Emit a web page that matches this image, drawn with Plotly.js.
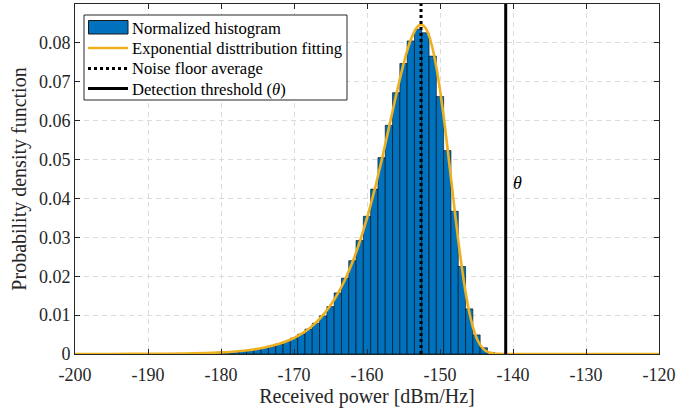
<!DOCTYPE html>
<html><head><meta charset="utf-8">
<script src="https://cdn.plot.ly/plotly-3.0.1.min.js"></script>
<style>html,body{margin:0;padding:0;background:#fff}#chart{width:699px;height:411px}</style>
</head><body><div id="chart"></div>
<script>
// Histogram bins (centres, dBm/Hz) and normalized density
const binCenters = [-190,-189,-188,-187,-186,-185,-184,-183,-182,-181,-180,-179,-178,-177,-176,-175,-174,-173,-172,-171,-170,-169,-168,-167,-166,-165,-164,-163,-162,-161,-160,-159,-158,-157,-156,-155,-154,-153,-152,-151,-150,-149,-148,-147,-146,-145,-144,-143,-142];
const binDensity = [0.00003,0.00004,0.00005,0.00006,0.00008,0.0001,0.00013,0.00017,0.00022,0.0003,0.00039,0.0005,0.00063,0.0008,0.001,0.0013,0.0016,0.0021,0.0026,0.0032,0.0041,0.0051,0.0064,0.0079,0.0098,0.0122,0.0157,0.0195,0.024,0.0292,0.0354,0.0424,0.0505,0.0588,0.0672,0.0747,0.0805,0.0835,0.0826,0.0766,0.0662,0.0523,0.0367,0.0225,0.0116,0.0049,0.0016,0.0004,0.00005];

// Fitted curve points
const fitX = [-200,-195,-190,-185,-182,-180,-178,-176,-174,-172,-170,-169,-168,-167,-166,-165,-164,-163,-162,-161,-160,-159,-158,-157,-156,-155,-154,-153,-152.5,-152,-151.5,-151,-150.5,-150,-149.5,-149,-148.5,-148,-147.5,-147,-146.5,-146,-145.5,-145,-144.5,-144,-143.5,-143,-142.5,-142,-141,-140,-135,-130,-125,-120];
const fitY = [0,0.00001,0.00004,0.00013,0.00026,0.00042,0.00066,0.00105,0.00166,0.00261,0.00412,0.00516,0.00645,0.00806,0.01006,0.01251,0.01552,0.01917,0.02357,0.02881,0.03493,0.04195,0.04977,0.05815,0.06664,0.07453,0.08085,0.08436,0.08468,0.08387,0.0818,0.07844,0.07377,0.06791,0.06102,0.05338,0.04528,0.03714,0.02929,0.02215,0.01596,0.01089,0.007,0.0042,0.00234,0.00119,0.00055,0.00023,0.00008,0.00003,0,0,0,0,0,0];

const noiseFloorAvg = -152.6;
const detectionThreshold = -141;
const seriesNames = ['Normalized histogram','Exponential disttribution fitting','Noise floor average','Detection threshold (<i>θ</i>)'];

const xTickVals = [-200,-190,-180,-170,-160,-150,-140,-130,-120];
const xTickText = ['-200','-190','-180','-170','-160','-150','-140','-130','-120'];
const yTickVals = [0,0.01,0.02,0.03,0.04,0.05,0.06,0.07,0.08];
const yTickText = ['0','0.01','0.02','0.03','0.04','0.05','0.06','0.07','0.08'];
const xRange = [-200,-120];
const yRange = [0,0.09];

const BLUE = '#0072BD', ORANGE = '#EDB120';

const traces = [
  {type:'bar', x:binCenters, y:binDensity, width:1, name:seriesNames[0], showlegend:false,
   marker:{color:BLUE, line:{color:'#000000', width:0.6}}},
  {type:'scatter', mode:'lines', x:fitX, y:fitY, name:seriesNames[1], cliponaxis:false, showlegend:false,
   line:{color:ORANGE, width:2.6, shape:'spline', smoothing:0.8}},
  {type:'scatter', mode:'lines', x:[noiseFloorAvg,noiseFloorAvg], y:yRange, name:seriesNames[2], showlegend:false,
   line:{color:'#000000', width:3, dash:'3px,3px'}},
  {type:'scatter', mode:'lines', x:[detectionThreshold,detectionThreshold], y:yRange, name:seriesNames[3], showlegend:false,
   line:{color:'#000000', width:3}}
];

const fontFam = "'Liberation Serif', 'Times New Roman', serif";
const axisCommon = {
  ticks:'inside', ticklen:5, tickwidth:1, tickcolor:'#262626',
  showline:true, linecolor:'#262626', linewidth:1, mirror:'ticks',
  showgrid:true, gridcolor:'#dcdcdc', gridwidth:1, griddash:'5px,4px',
  zeroline:false, tickfont:{family:fontFam, size:18, color:'#262626'}
};

// Manual legend (MATLAB style) placed in paper coordinates of the plot area
const PL = 75, PW = 584, PB = 354, PH = 350;
const px = v => (v - PL) / PW;
const py = v => (PB - v) / PH;
const legShapes = [
  {type:'rect', xref:'paper', yref:'paper', x0:px(84), x1:px(347), y0:py(100), y1:py(15),
   fillcolor:'#ffffff', line:{color:'#262626', width:1}},
  {type:'rect', xref:'paper', yref:'paper', x0:px(88.5), x1:px(128), y0:py(34), y1:py(20.5),
   fillcolor:BLUE, line:{color:'#1a1a1a', width:1}},
  {type:'line', xref:'paper', yref:'paper', x0:px(88), x1:px(128), y0:py(48), y1:py(48),
   line:{color:ORANGE, width:2.6}},
  {type:'line', xref:'paper', yref:'paper', x0:px(88), x1:px(128), y0:py(68.5), y1:py(68.5),
   line:{color:'#000000', width:3, dash:'3px,3px'}},
  {type:'line', xref:'paper', yref:'paper', x0:px(88), x1:px(128), y0:py(88.5), y1:py(88.5),
   line:{color:'#000000', width:3}}
];
const legRowY = [28, 48.5, 68.5, 89];
const legAnn = seriesNames.map((t, i) => ({
  xref:'paper', yref:'paper', x:px(130), y:py(legRowY[i]), text:t, showarrow:false,
  xanchor:'left', yanchor:'middle', font:{family:fontFam, size:16.6, color:'#000000'}
}));

const layout = {
  width:699, height:411,
  margin:{l:75, r:40, t:4, b:57},
  paper_bgcolor:'#ffffff', plot_bgcolor:'#ffffff',
  font:{family:fontFam, size:18, color:'#262626'},
  bargap:0,
  showlegend:false,
  xaxis:Object.assign({}, axisCommon, {range:xRange, tickmode:'array', tickvals:xTickVals, ticktext:xTickText,
    ticklabelstandoff:4,
    title:{text:'Received power [dBm/Hz]', font:{family:fontFam, size:20, color:'#262626'}, standoff:4}}),
  yaxis:Object.assign({}, axisCommon, {range:yRange, tickmode:'array', tickvals:yTickVals, ticktext:yTickText,
    title:{text:'Probability density function', font:{family:fontFam, size:20, color:'#262626'}, standoff:6}}),
  shapes:legShapes,
  annotations:[{x:-140.3, y:0.044, xref:'x', yref:'y', text:'<i>θ</i>', showarrow:false, xanchor:'left', yanchor:'middle',
    font:{family:fontFam, size:18, color:'#000000'}}].concat(legAnn)
};

Plotly.newPlot('chart', traces, layout, {staticPlot:true, displayModeBar:false});
</script>
</body></html>
